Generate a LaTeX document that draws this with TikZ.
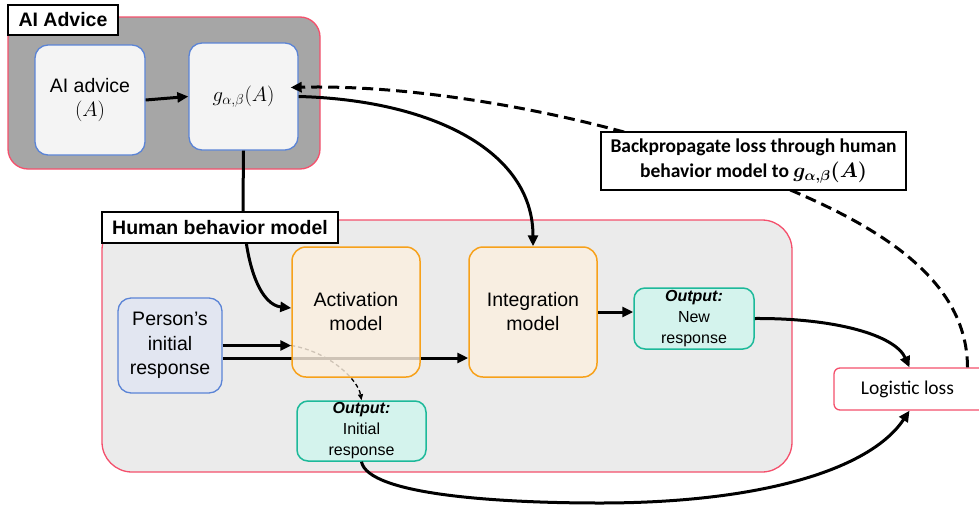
\documentclass[tikz,border=0pt]{standalone}
\usepackage{amsmath}
\usepackage{fontspec}
\setmainfont{Liberation Sans}
\newfontfamily\calibri{Carlito}
\usetikzlibrary{arrows.meta}
\pgfdeclarelayer{bg}
\pgfdeclarelayer{behind}
\pgfdeclarelayer{fg}
\pgfsetlayers{bg,behind,main,fg}
\definecolor{redb}{HTML}{F4506C}
\definecolor{darkgray}{HTML}{A6A6A6}
\definecolor{lightgray}{HTML}{EBEBEB}
\definecolor{blueb}{HTML}{5B84D6}
\definecolor{whitebox}{HTML}{F4F4F4}
\definecolor{personfill}{HTML}{E2E6F1}
\definecolor{orangeb}{HTML}{F7A11A}
\definecolor{orangefill}{HTML}{FCEFDF}
\definecolor{tealb}{HTML}{1DB99A}
\definecolor{tealfill}{HTML}{D4F3ED}
\tikzset{
  outerbox/.style={draw=redb, line width=1.3pt, inner sep=0pt},
  labelbox/.style={draw=black, fill=white, line width=2.4pt, inner sep=0pt, font=\fontsize{19.5}{22}\selectfont\bfseries},
  bluebox/.style={draw=blueb, line width=1.3pt, rounded corners=13pt, inner sep=0pt, align=center, font=\fontsize{19.5}{24.5}\selectfont},
  actbox/.style={draw=orangeb, fill=orangefill, fill opacity=0.82, text opacity=1, line width=1.5pt, rounded corners=14pt, inner sep=0pt, align=center, font=\fontsize{19.5}{24}\selectfont, minimum width=128pt, minimum height=130pt},
  outbox/.style={draw=tealb, fill=tealfill, line width=1.5pt, rounded corners=11pt, inner sep=0pt, align=center, font=\fontsize{16}{21}\selectfont},
  arr/.style={line width=3pt, -{Triangle[length=11pt,width=10pt]}},
}
\begin{document}
\begin{tikzpicture}[x=1pt,y=-1pt]
\useasboundingbox (0,0) rectangle (979,506);
\begin{pgfonlayer}{bg}
\node[outerbox, fill=darkgray, rounded corners=20pt, minimum width=312pt, minimum height=152pt] (aiout) at (164,93) {};
\node[outerbox, fill=lightgray, rounded corners=30pt, minimum width=690pt, minimum height=252pt] (hbm) at (447,346) {};
\end{pgfonlayer}
% inner nodes
\node[bluebox, fill=whitebox, minimum width=110pt, minimum height=110pt] (adv) at (90,100) {AI advice\\{\fontsize{21}{24}\selectfont$(A)$}};
\node[bluebox, fill=whitebox, minimum width=109pt, minimum height=107pt, font=\fontsize{21.5}{24}\selectfont] (g) at (243.5,96.5) {$g_{\alpha,\beta}(A)$};
\node[bluebox, fill=personfill, minimum width=104pt, minimum height=95pt] (pers) at (170,345.5) {Person’s\\initial\\response};
\node[actbox] (act) at (356,312) {Activation\\model};
\node[actbox] (integ) at (533,312) {Integration\\model};
\node[outbox, minimum width=120pt, minimum height=61pt] (newr) at (694,318.5) {\textbf{\textit{Output:}}\\New\\response};
\node[outbox, minimum width=129pt, minimum height=60pt] (initr) at (361.5,431) {\textbf{\textit{Output:}}\\Initial\\response};
\node[draw=redb, fill=white, line width=1.3pt, rounded corners=6pt, minimum width=151pt, minimum height=42pt, inner sep=0pt, font=\calibri\fontsize{19.5}{22}\selectfont] (loss) at (909.5,389) {\hspace*{-4pt}Logistic loss};
% lines passing behind the activation box
\begin{pgfonlayer}{behind}
\draw[arr] ([yshift=-12.5pt]pers.east) -- ([yshift=-12.5pt]pers.east -| integ.west);
\draw[line width=1.3pt, dash pattern=on 4pt off 3pt, -{Triangle[length=6pt,width=5pt]}] (pers.east -| act.west) .. controls (330,352) and (358,380) .. (initr.north);
\end{pgfonlayer}
% connectors
\draw[arr] (adv.east) -- (g.west);
\draw[arr] (pers.east) -- (pers.east -| act.west);
\draw[arr] (g.south) -- (243,205) .. controls (245,270) and (262,305) .. ([yshift=4pt]act.west);
\draw[arr] (g.east) .. controls (430,100) and (533,150) .. (integ.north);
\draw[arr] (integ.east) -- (integ.east -| newr.west);
\draw[arr] (newr.east) .. controls (835,318) and (895,335) .. (loss.north);
\draw[arr] (initr.south) .. controls (368,495) and (500,503) .. (600,503) .. controls (760,503) and (870,470) .. (loss.south);
\draw[arr, dash pattern=on 11pt off 6pt] ([xshift=58pt]loss.north) .. controls (967,270) and (860,215) .. (740,170) .. controls (600,115) and (420,84) .. ([xshift=-8pt,yshift=9pt]g.east);
% label boxes
\begin{pgfonlayer}{fg}
\node[labelbox, minimum width=110pt, minimum height=30pt] (ailab) at (63,20) {AI Advice};
\node[labelbox, minimum width=236pt, minimum height=31pt] (hlab) at (220,227.5) {Human behavior model};
\node[labelbox, minimum width=305pt, minimum height=58pt, align=center, font=\calibri\fontsize{19.5}{25}\selectfont\bfseries] (bp) at (753.5,161) {Backpropagate loss through human\\behavior model to $\boldsymbol{g_{\alpha,\beta}(A)}$};
\end{pgfonlayer}
\end{tikzpicture}
\end{document}
